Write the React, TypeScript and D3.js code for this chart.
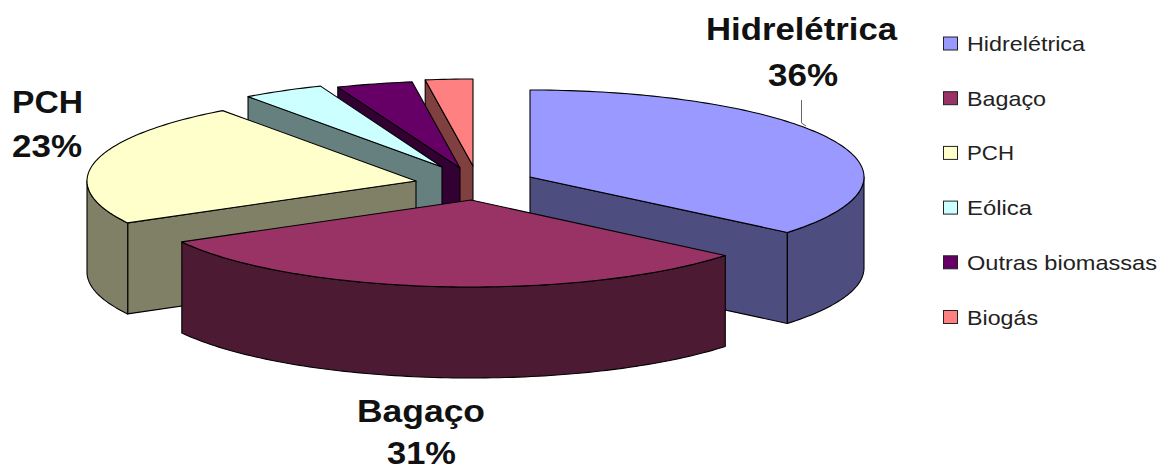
import React from "react";
import * as d3 from "d3";

const categories = ["Hidrelétrica", "Bagaço", "PCH", "Eólica", "Outras biomassas", "Biogás"];
const values = [36, 31, 23, 4, 3.7, 2.3];
const percentLabels = ["36%", "31%", "23%"];
const topColors = ["#9999FF", "#993366", "#FFFFCC", "#CCFFFF", "#660066", "#FF8080"];
const wallColors = ["#4D4D80", "#4D1A33", "#808066", "#668080", "#330033", "#804040"];

// Layout of the exploded 3D pie
const W = 1161;
const H = 471;
const RY = 87;
const DEPTH = 91;
const apexes = [
  { x: 530, y: 177, rx: 334 },
  { x: 471, y: 200, rx: 330 },
  { x: 416, y: 181, rx: 329 },
  { x: 442, y: 167, rx: 330 },
  { x: 460, y: 168, rx: 332 },
  { x: 473, y: 166, rx: 332 },
];
const drawOrder = [5, 4, 3, 2, 0, 1];

const calloutLayout = [
  { name: { x: 706, y: 40, w: 191 }, pct: { x: 768, y: 86, w: 70 } },
  { name: { x: 357, y: 422, w: 128 }, pct: { x: 387, y: 464, w: 69 } },
  { name: { x: 12, y: 113, w: 71 }, pct: { x: 12, y: 157, w: 70 } },
];
const legendWidths = [118, 79, 47, 65, 190, 71];
const legendY = d3.scalePoint<number>().domain(d3.range(6)).range([43.5, 317]);

const pie = d3.pie<number>().sort(null).value((d) => d);
const arcs = pie(values);

type Pt = [number, number];
const line = d3.line<Pt>().x((d) => d[0]).y((d) => d[1]);

const onEllipse = (i: number, a: number, dy = 0): Pt => {
  const c = apexes[i];
  return [c.x + c.rx * Math.sin(a), c.y - RY * Math.cos(a) + dy];
};
const sweep = (i: number, a0: number, a1: number, dy = 0): Pt[] => {
  const n = Math.max(2, Math.ceil(Math.abs(a1 - a0) / 0.02));
  return d3.range(n + 1).map((k) => onEllipse(i, a0 + ((a1 - a0) * k) / n, dy));
};

function Slice({ i }: { i: number }) {
  const { startAngle: a0, endAngle: a1 } = arcs[i];
  const c = apexes[i];
  const apex: Pt = [c.x, c.y];
  const apexLow: Pt = [c.x, c.y + DEPTH];
  const stroke = { stroke: "#000", strokeWidth: 1.1, strokeLinejoin: "round" as const };
  const faces: string[] = [];
  // radial face that turns towards the viewer
  if (Math.sin(a0) < -1e-6) {
    faces.push(line([apex, onEllipse(i, a0), onEllipse(i, a0, DEPTH), apexLow])! + "Z");
  }
  if (Math.sin(a1) > 1e-6) {
    faces.push(line([apex, onEllipse(i, a1), onEllipse(i, a1, DEPTH), apexLow])! + "Z");
  }
  // curved wall, only the front half of the ellipse
  const f0 = Math.max(a0, Math.PI / 2);
  const f1 = Math.min(a1, (3 * Math.PI) / 2);
  const outer =
    f1 > f0 ? line([...sweep(i, f0, f1), ...sweep(i, f1, f0, DEPTH)])! + "Z" : null;
  const top = line([apex, ...sweep(i, a0, a1)])! + "Z";
  return (
    <g>
      {faces.map((d, k) => (
        <path key={k} d={d} fill={wallColors[i]} {...stroke} />
      ))}
      {outer && <path d={outer} fill={wallColors[i]} {...stroke} />}
      <path d={top} fill={topColors[i]} {...stroke} />
    </g>
  );
}

const font = "'Liberation Sans', Arial, sans-serif";

export default function App() {
  return (
    <svg
      width={W}
      height={H}
      viewBox={`0 0 ${W} ${H}`}
      style={{ position: "absolute", left: 0, top: 0, background: "#fff", display: "block" }}
    >
      {drawOrder.map((i) => (
        <Slice key={i} i={i} />
      ))}
      <path d="M801.5,100V123L806,126" fill="none" stroke="#666" strokeWidth={1} />
      {calloutLayout.map((l, i) => (
        <g key={i} fontFamily={font} fontWeight="bold" fontSize={32} fill="#111">
          <text x={l.name.x} y={l.name.y} textLength={l.name.w} lengthAdjust="spacingAndGlyphs">
            {categories[i]}
          </text>
          <text x={l.pct.x} y={l.pct.y} textLength={l.pct.w} lengthAdjust="spacingAndGlyphs">
            {percentLabels[i]}
          </text>
        </g>
      ))}
      {categories.map((name, i) => (
        <g key={name}>
          <rect
            x={943.5}
            y={legendY(i)! - 6.5}
            width={14}
            height={13}
            fill={topColors[i]}
            stroke="#222"
            strokeWidth={1}
          />
          <text
            x={967}
            y={legendY(i)! + 7.5}
            fontFamily={font}
            fontSize={21}
            fill="#222"
            textLength={legendWidths[i]}
            lengthAdjust="spacingAndGlyphs"
          >
            {name}
          </text>
        </g>
      ))}
    </svg>
  );
}
